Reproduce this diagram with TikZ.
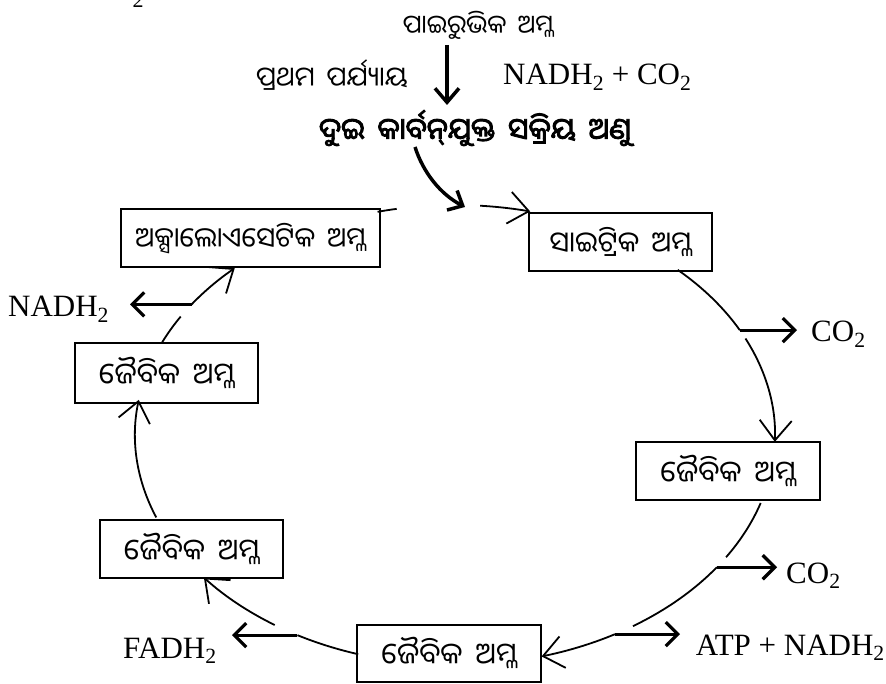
\documentclass[tikz,border=0pt]{standalone}
\usepackage{fontspec}
\setmainfont{Liberation Serif}
\newfontfamily\odia[Script=Oriya,WordSpace=1.7]{Noto Sans Oriya UI}
\newfontfamily\odiab[Script=Oriya,FakeBold=3,WordSpace=1.7]{Noto Sans Oriya UI}
\usetikzlibrary{arrows.meta,calc}
\newcommand\odiafs{\odia\fontsize{29.5}{32}\selectfont}
\newcommand\odiasm{\odia\fontsize{27}{30}\selectfont}
\newcommand\latfs{\fontsize{31}{35}\selectfont}
\tikzset{
 cyc/.style={line width=1.8pt},
 cyca/.style={line width=1.8pt,-{Straight Barb[length=20pt,width=32pt]}},
 side/.style={line width=3.2pt,-{Straight Barb[length=12pt,width=24pt]}},
 box/.style={draw,line width=2pt,inner sep=0pt,minimum height=58pt,font=\odiafs},
 lat/.style={inner sep=0pt,anchor=base west,font=\latfs},
 otext/.style={inner sep=0pt,font=\odiasm},
}
\begin{document}
\begin{tikzpicture}[x=1pt,y=-1pt]
\useasboundingbox (0,0) rectangle (886,684);
% cropped remnant at top
\node[inner sep=0pt,anchor=base,font=\fontsize{22}{24}\selectfont] (frag) at (138,8) {2};
% top texts
\node[otext,font=\odia\fontsize{25.5}{28}\selectfont] (pyr) at (478,25) {ପାଇରୁଭିକ ଅମ୍ଳ};
\node[otext] (phase) at (332,75) {ପ୍ରଥମ ପର୍ଯ୍ୟାୟ};
\node[lat] (nc) at (503,85) {NADH\textsubscript{2} + CO\textsubscript{2}};
\node[inner sep=0pt,font=\odiab\fontsize{29.5}{32}\selectfont] (two) at (475,128) {ଦୁଇ କାର୍ବନ୍‌ଯୁକ୍ତ ସକ୍ରିୟ ଅଣୁ};
\coordinate (v1) at (447,45);
\coordinate (v2) at (447,105);
\draw[line width=3.5pt,-{Straight Barb[length=14pt,width=24pt]}] (v1) -- (v2);
\coordinate (in1) at (415,147);
\coordinate (in2) at (465,207);
\draw[line width=3.5pt,-{Straight Barb[length=12pt,width=22pt]}] (in1) .. controls (423,172) and (440,194) .. (in2);
% boxes
\node[box,minimum width=259pt,font=\odia\fontsize{27.5}{30}\selectfont] (oxa) at (250.5,238.5) {ଅକ୍ସାଲୋଏସେଟିକ ଅମ୍ଳ};
\node[box,minimum width=183pt,font=\odia\fontsize{28.5}{31}\selectfont] (cit) at (620.5,242.5) {ସାଇଟ୍ରିକ ଅମ୍ଳ};
\node[box,minimum width=184pt] (jr) at (728,471) {ଜୈବିକ ଅମ୍ଳ};
\node[box,minimum width=184pt,minimum height=57pt] (jb) at (449,653.5) {ଜୈବିକ ଅମ୍ଳ};
\node[box,minimum width=183pt] (jll) at (191.5,549) {ଜୈବିକ ଅମ୍ଳ};
\node[box,minimum width=183pt,minimum height=60pt] (jlu) at (166.5,373) {ଜୈବିକ ଅମ୍ଳ};
% cycle
\coordinate (C) at (455,435);
\draw[cyc] ($(C)+(-104:320 and 230)$) arc[start angle=-104,end angle=-100.5,x radius=320,y radius=230];
\draw[cyca] ($(C)+(-85.5:320 and 230)$) arc[start angle=-85.5,end angle=-76.4,x radius=320,y radius=230];
\draw[cyc] ($(C)+(-45.9:320 and 230)$) coordinate (s2) arc[start angle=-45.9,end angle=-27.1,x radius=320,y radius=230] coordinate (p1);
\draw[cyca] ($(C)+(-24.8:320 and 230)$) arc[start angle=-24.8,end angle=1.7,x radius=320,y radius=230];
\draw[cyc] ($(C)+(17.2:320 and 230)$) arc[start angle=17.2,end angle=32.1,x radius=320,y radius=230];
\draw[cyc] ($(C)+(35.1:320 and 230)$) coordinate (p2) arc[start angle=35.1,end angle=56.2,x radius=320,y radius=230];
\draw[cyca] ($(C)+(60:320 and 230)$) coordinate (p3) arc[start angle=60,end angle=74.3,x radius=320,y radius=230];
\draw[cyc] ($(C)+(107.6:320 and 230)$) arc[start angle=107.6,end angle=119.5,x radius=320,y radius=230] coordinate (p4);
\draw[cyca] ($(C)+(124.3:320 and 230)$) arc[start angle=124.3,end angle=141.7,x radius=320,y radius=230];
\draw[cyca] ($(C)+(159:320 and 230)$) arc[start angle=159,end angle=188.8,x radius=320,y radius=230];
\draw[cyc] ($(C)+(203.6:320 and 230)$) arc[start angle=203.6,end angle=211,x radius=320,y radius=230];
\draw[cyca] ($(C)+(214.6:320 and 230)$) coordinate (p5) arc[start angle=214.6,end angle=226.5,x radius=320,y radius=230];
% side products
\node[lat] (co2a) at (811,342) {CO\textsubscript{2}};
\node[lat] (co2b) at (786,583) {CO\textsubscript{2}};
\node[lat,anchor=base east] (atp) at (885,655) {ATP + NADH\textsubscript{2}};
\node[lat] (fadh) at (123,658) {FADH\textsubscript{2}};
\node[lat] (nadh) at (8,317) {NADH\textsubscript{2}};
\draw[side] (p1) -- (p1 -| 797,0);
\draw[side] (p2) -- (p2 -| 777,0);
\draw[side] (p3) -- (p3 -| 680,0);
\draw[side] (p4) -- (p4 -| 232,0);
\draw[side] (p5) -- (p5 -| 130,0);
\end{tikzpicture}
\end{document}
